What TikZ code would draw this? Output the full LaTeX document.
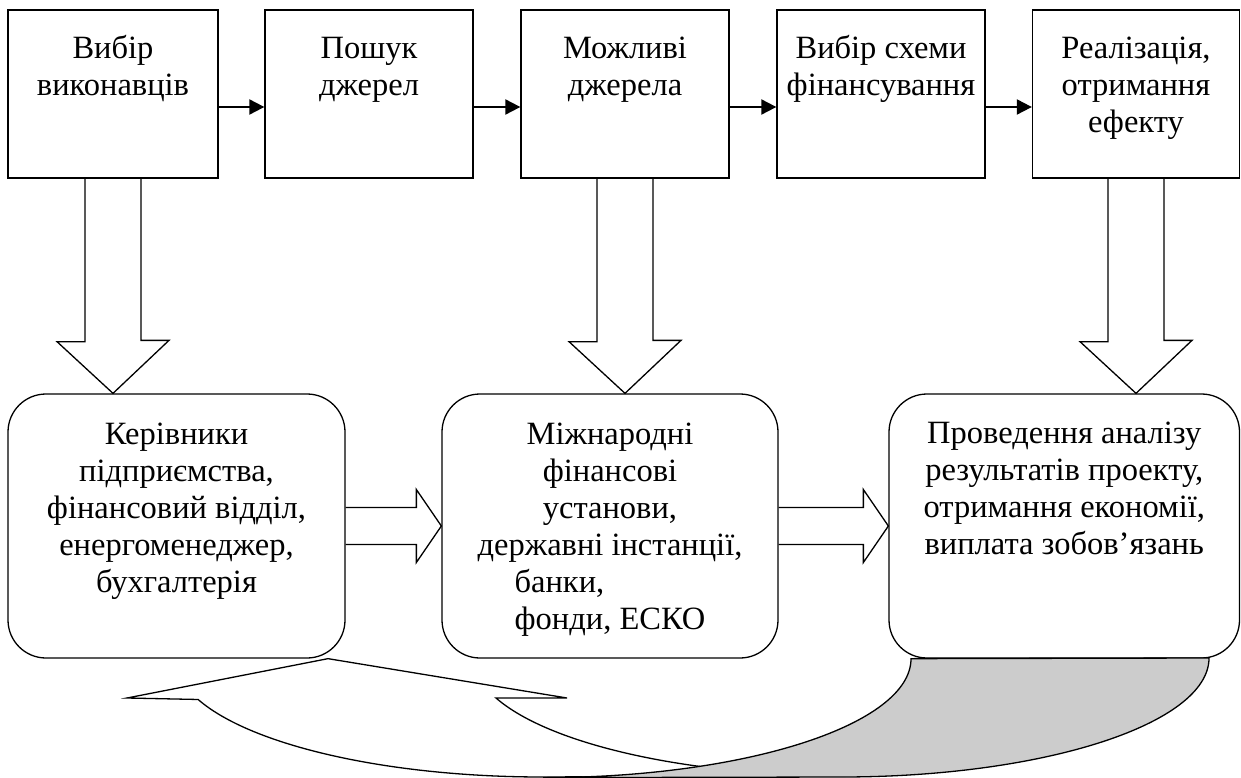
\documentclass[tikz,border=0pt]{standalone}
\usepackage{fontspec}
\setmainfont{Liberation Serif}
\usetikzlibrary{arrows.meta,calc}

\begin{document}
\begin{tikzpicture}[x=1pt,y=1pt,
  line join=miter,
  topbox/.style={draw, rectangle, line width=1.3pt, inner sep=0pt,
                 minimum width=#1, minimum height=168pt},
  roundbox/.style={draw, rectangle, rounded corners=38pt, line width=1.3pt,
                   inner sep=0pt, minimum width=#1, minimum height=264pt},
  lbl/.style={font=\fontsize{32.5pt}{37pt}\selectfont, align=center,
              inner sep=0pt, anchor=north},
  conn/.style={line width=2pt, -{Triangle[length=15pt,width=15pt]}},
  hollow/.style={draw, line width=1.3pt},
  ribbon/.style={draw, line width=1.3pt, fill=white},
  ribbonback/.style={draw, line width=1.3pt, fill=black!20}
]
\useasboundingbox (0,0) rectangle (1241,-778);

% upper row of steps
\node[topbox=210pt] (t1) at (113,-94) {};
\node[topbox=208pt] (t2) at (369,-94) {};
\node[topbox=208pt] (t3) at (625,-94) {};
\node[topbox=208pt] (t4) at (881,-94) {};
\node[topbox=207pt] (t5) at (1136,-94) {};

\node[lbl] (t1l) at ($(t1.north)+(0,-22.6)$) {\strut Вибір\\виконавців};
\node[lbl] (t2l) at ($(t2.north)+(0,-22.6)$) {\strut Пошук\\джерел};
\node[lbl] (t3l) at ($(t3.north)+(0,-22.6)$) {\strut Можливі\\джерела};
\node[lbl] (t4l) at ($(t4.north)+(0,-22.6)$) {\strut Вибір схеми\\фінансування};
\node[lbl] (t5l) at ($(t5.north)+(0,-22.6)$) {\strut Реалізація,\\отримання\\ефекту};

% lower row of participants
\node[roundbox=337pt] (bA) at (176.5,-526) {};
\node[roundbox=336pt] (bB) at (610,-526) {};
\node[roundbox=350.5pt] (bC) at (1064.25,-526) {};

\node[lbl] (bAl) at ($(bA.north)+(0,-25.1)$) {\strut Керівники\\підприємства,\\фінансовий відділ,\\енергоменеджер,\\бухгалтерія};
\node[lbl] (bBl) at ($(bB.north)+(0,-25.1)$) {\strut Міжнародні\\фінансові\\установи,\\державні інстанції,\\\rlap{банки,}\phantom{фонди, ЕСКО}\\фонди, ЕСКО};
\node[lbl] (bCl) at ($(bC.north)+(0,-24)$) {\strut Проведення аналізу\\результатів проекту,\\отримання економії,\\виплата зобов’язань};

% arrows between the upper steps
\draw[conn] ($(t1.east)+(0,-13)$) -- ($(t2.west)+(0,-13)$);
\draw[conn] ($(t2.east)+(0,-13)$) -- ($(t3.west)+(0,-13)$);
\draw[conn] ($(t3.east)+(0,-13)$) -- ($(t4.west)+(0,-13)$);
\draw[conn] ($(t4.east)+(0,-13)$) -- ($(t5.west)+(0,-13)$);

% hollow block arrows pointing down
\foreach \s/\d in {t1/bA, t3/bB, t5/bC}{
  \draw[hollow] ($(\s.south)+(-28,0)$) -- ++(0,-163) -- ++(-28,0)
    -- (\s.south |- \d.north) -- ++(56,53) -- ++(-28,0)
    -- ($(\s.south)+(28,0)$);
}

% hollow block arrows pointing right
\foreach \s/\d in {bA/bB, bB/bC}{
  \draw[hollow] ($(\s.east)+(0,18.5)$) -- ($(\d.west)+(-25,18.5)$) -- ++(0,18)
    -- (\d.west) -- ++(-25,-36.5) -- ++(0,18)
    -- ($(\s.east)+(0,-18.5)$);
}

% curved return arrow from the last participant back to the first
\coordinate (rtip) at ($(bA.south)+(151.5,0)$);
\coordinate (rtail) at ($(bC.south)+(-153.25,0)$);
\path[ribbon] (rtip) -- (567,-698) -- (496,-698)
  arc[start angle=200.4, end angle=270, x radius=368pt, y radius=119pt]
  -- (543,-777)
  arc[start angle=270, end angle=200.4, x radius=368pt, y radius=119pt]
  -- (127,-698) -- cycle;
\path[ribbonback] (rtail)
  arc[start angle=0, end angle=-90, x radius=368pt, y radius=119pt]
  -- (841,-777)
  arc[start angle=270, end angle=360, x radius=368pt, y radius=119pt]
  -- cycle;
\end{tikzpicture}
\end{document}
